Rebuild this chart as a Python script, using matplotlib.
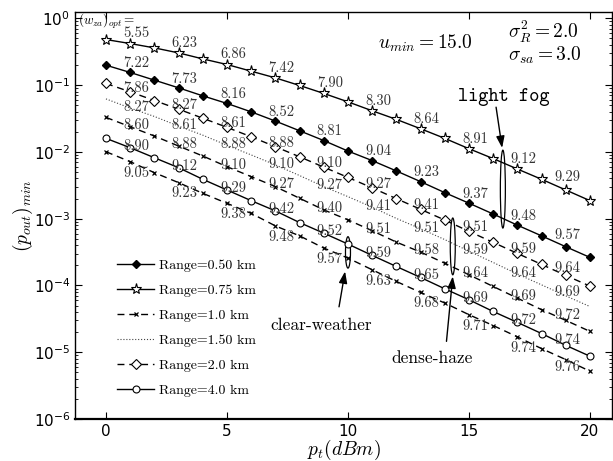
import numpy as np
import matplotlib
matplotlib.use("Agg")
from matplotlib import pyplot as plt
from matplotlib.patches import Ellipse
from matplotlib.font_manager import FontProperties

# transmit power (dBm)
pt = np.arange(0, 21)

# log10 of (p_out)_min, one list per curve
logp_050 = [-0.701, -0.810, -0.925, -1.040, -1.160, -1.274, -1.400, -1.538, -1.683, -1.830, -1.987,
            -2.130, -2.285, -2.445, -2.610, -2.768, -2.930, -3.097, -3.257, -3.420, -3.580]
logp_075 = [-0.317, -0.377, -0.442, -0.517, -0.607, -0.691, -0.791, -0.891, -1.005, -1.124, -1.250,
            -1.384, -1.513, -1.653, -1.797, -1.952, -2.100, -2.256, -2.410, -2.570, -2.730]
logp_100 = [-1.483, -1.623, -1.762, -1.912, -2.061, -2.221, -2.370, -2.520, -2.694, -2.868, -3.018,
            -3.180, -3.351, -3.500, -3.667, -3.840, -4.015, -4.190, -4.363, -4.523, -4.688]
logp_150 = [-1.206, -1.343, -1.469, -1.613, -1.749, -1.900, -2.045, -2.194, -2.354, -2.520, -2.670,
            -2.828, -2.996, -3.151, -3.313, -3.487, -3.656, -3.828, -3.991, -4.156, -4.316]
logp_200 = [-0.975, -1.100, -1.230, -1.360, -1.495, -1.632, -1.773, -1.922, -2.073, -2.228, -2.382,
            -2.538, -2.700, -2.860, -3.020, -3.190, -3.355, -3.520, -3.685, -3.850, -4.010]
logp_400 = [-1.797, -1.937, -2.087, -2.236, -2.410, -2.570, -2.730, -2.883, -3.058, -3.217, -3.380,
            -3.550, -3.716, -3.880, -4.050, -4.214, -4.390, -4.553, -4.720, -4.897, -5.060]
logp_low = [-1.997, -2.146, -2.311, -2.460, -2.620, -2.770, -2.920, -3.108, -3.257, -3.440, -3.590,
            -3.765, -3.940, -4.105, -4.263, -4.438, -4.600, -4.770, -4.946, -5.110, -5.285]

# (w_za)_opt written at the odd pt values
wza_050 = ["7.22", "7.73", "8.16", "8.52", "8.81", "9.04", "9.23", "9.37", "9.48", "9.57"]
wza_075 = ["5.55", "6.23", "6.86", "7.42", "7.90", "8.30", "8.64", "8.91", "9.12", "9.29"]
wza_100 = ["8.60", "8.88", "9.10", "9.27", "9.40", "9.51", "9.58", "9.64", "9.69", "9.72"]
wza_150 = ["8.27", "8.61", "8.88", "9.10", "9.27", "9.41", "9.51", "9.59", "9.64", "9.69"]
wza_200 = ["7.86", "8.27", "8.61", "8.88", "9.10", "9.27", "9.41", "9.51", "9.59", "9.64"]
wza_400 = ["8.90", "9.12", "9.29", "9.42", "9.52", "9.59", "9.65", "9.69", "9.72", "9.74"]
wza_low = ["9.05", "9.23", "9.38", "9.48", "9.57", "9.63", "9.68", "9.71", "9.74", "9.76"]

CM = "cmr10"
dash = (0, (5, 3.5))

fig = plt.figure(figsize=(6.13, 4.61), dpi=100)
ax = fig.add_axes([75 / 613, 42 / 461, 537 / 613, 407 / 461])
ax.set_yscale("log")
ax.set_xlim(-1.28, 20.91)
ax.set_ylim(1e-6, 1.246)

# (log values, labels, label y-offset px, line kwargs)
curves = [
    (logp_050, wza_050, 9, dict(ls="-", marker="D", ms=4, mfc="k", label="Range=0.50 km")),
    (logp_075, wza_075, 10, dict(ls="-", marker="*", ms=8, mfc="w", mew=0.8, label="Range=0.75 km")),
    (logp_100, wza_100, 2, dict(ls=dash, marker="x", ms=3.5, mew=0.9, label="Range=1.0 km")),
    (logp_150, wza_150, 1, dict(ls=":", lw=0.8, color="#444444", label="Range=1.50 km")),
    (logp_200, wza_200, 4, dict(ls=dash, marker="D", ms=5, mfc="w", mew=0.8, label="Range=2.0 km")),
    (logp_400, wza_400, 2, dict(ls="-", marker="o", ms=5, mfc="w", mew=0.8, label="Range=4.0 km")),
    (logp_low, wza_low, -11, dict(ls=dash, marker="x", ms=3.5, mew=0.9, label="_nolegend_")),
]

for logp, labels, dy, kw in curves:
    kw.setdefault("color", "k")
    kw.setdefault("lw", 1.0)
    y = np.power(10.0, logp)
    ax.plot(pt, y, **kw)
    for i, txt in enumerate(labels):
        k = 2 * i + 1
        dx, ddy = (6, dy) if k < 19 else (2, dy + 3)
        ax.annotate(txt, (pt[k], y[k]), xytext=(dx, ddy), textcoords="offset pixels",
                    ha="center", va="center", fontfamily=CM, fontsize=10.5, color="#333333")

# axes styling
ax.tick_params(which="both", direction="in", top=True, right=True, labelsize=11)
ax.tick_params(which="major", length=5, width=0.8)
ax.tick_params(which="minor", length=2.5, width=0.6)
ax.set_xticks([0, 5, 10, 15, 20])
for s in ax.spines.values():
    s.set_linewidth(1.0)
ax.spines["bottom"].set_linewidth(1.6)

ax.set_xlabel(r"$p_t(dBm)$", fontsize=14, math_fontfamily="cm", labelpad=-0.5)
ax.set_ylabel(r"$(p_{out})_{min}$", fontsize=14, math_fontfamily="cm", labelpad=-1)

ax.text(0.006, 0.978, r"$(w_{za})_{opt}=$", transform=ax.transAxes, ha="left", va="center",
        fontsize=9.5, math_fontfamily="cm")
ax.text(0.652, 0.924, r"$u_{min}=15.0$", transform=ax.transAxes, ha="center", va="center",
        fontsize=14, math_fontfamily="cm")
ax.text(0.806, 0.951, r"$\sigma_R^2=2.0$", transform=ax.transAxes, ha="left", va="center",
        fontsize=14, math_fontfamily="cm")
ax.text(0.806, 0.894, r"$\sigma_{sa}=3.0$", transform=ax.transAxes, ha="left", va="center",
        fontsize=14, math_fontfamily="cm")


def oval(x, lo, hi, w_px=5):
    p0 = ax.transData.transform((x, 10 ** lo))
    p1 = ax.transData.transform((x, 10 ** hi))
    inv = ax.transAxes.inverted()
    a0, a1 = inv.transform(p0), inv.transform(p1)
    bbox = ax.get_window_extent()
    e = Ellipse(((a0[0] + a1[0]) / 2, (a0[1] + a1[1]) / 2), w_px / bbox.width, abs(a1[1] - a0[1]),
                transform=ax.transAxes, fill=False, ec="k", lw=0.9)
    ax.add_patch(e)


arrow = dict(arrowstyle="-|>,head_length=0.7,head_width=0.25", color="k", lw=1.0, shrinkA=0, shrinkB=0)

# light fog
oval(16.4, -1.974, -3.14)
ax.annotate("", xy=(16.37, 10 ** -1.94), xytext=(16.12, 10 ** -1.33), arrowprops=arrow)
ax.text(16.45, 10 ** -1.18, "light fog", fontfamily="cmtt10", fontsize=14, ha="center", va="center")

# dense haze
oval(14.33, -2.99, -3.84)
ax.annotate("", xy=(14.33, 10 ** -3.865), xytext=(14.07, 10 ** -4.837), arrowprops=arrow)
ax.text(13.46, 10 ** -5.085, "dense-haze", fontfamily=CM, fontsize=12.5, ha="center", va="center")

# clear weather
oval(10.0, -3.27, -3.74)
ax.annotate("", xy=(9.88, 10 ** -3.79), xytext=(9.63, 10 ** -4.32), arrowprops=arrow)
ax.text(8.91, 10 ** -4.59, "clear-weather", fontfamily=CM, fontsize=12.5, ha="center", va="center")

ax.legend(loc="lower left", bbox_to_anchor=(0.078, 0.054), frameon=False, numpoints=1,
          prop=FontProperties(family=CM, size=10), handlelength=2.7, handletextpad=0.35,
          labelspacing=0.88, borderpad=0, borderaxespad=0)

fig.savefig("out.png", dpi=100)
